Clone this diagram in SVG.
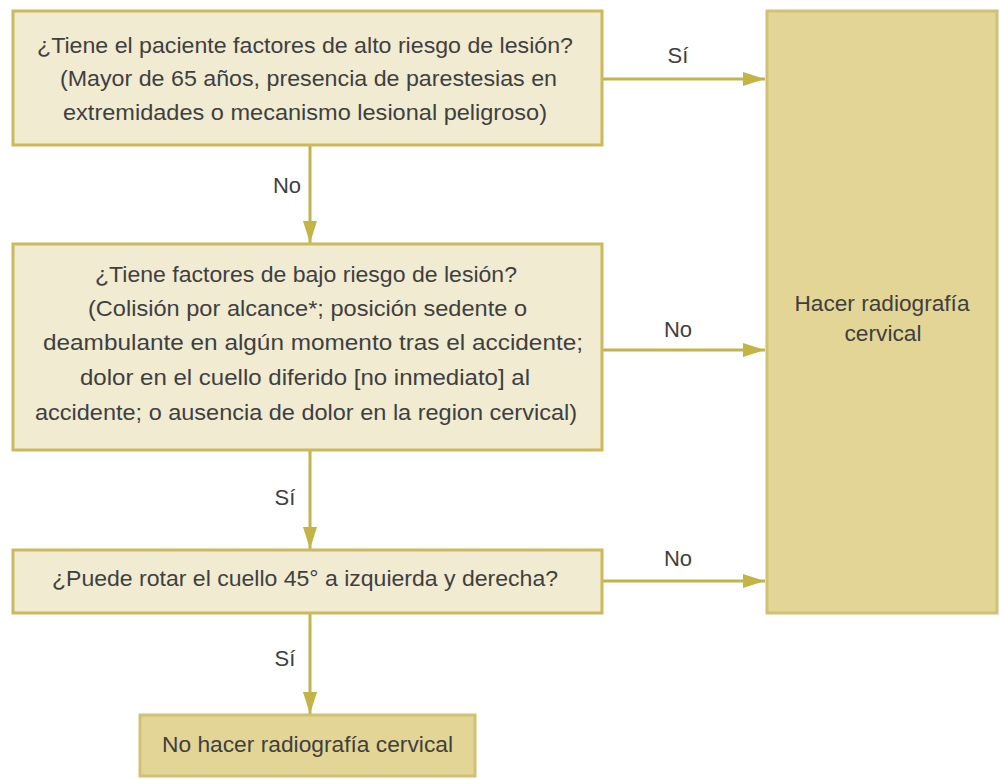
<svg xmlns="http://www.w3.org/2000/svg" width="1000" height="779" viewBox="0 0 1000 779">
<style>
.box{fill:#F1EBD2;stroke:#CBB95C;stroke-width:3}
.big{fill:#E3D596;stroke:#D2C175;stroke-width:3}
.t{font-family:"Liberation Sans",Arial,sans-serif;font-size:22px;fill:#3f3f3f;}
.c{text-anchor:middle}
.line{stroke:#C2B545;stroke-width:3;fill:none}
</style>
<defs>
<marker id="ah" markerUnits="userSpaceOnUse" markerWidth="24" markerHeight="16" refX="22" refY="7" orient="auto">
<path d="M0,0 L22,7 L0,14 z" fill="#C2B545"/>
</marker>
</defs>
<rect width="1000" height="779" fill="#fff"/>
<g id="connectors">
<line class="line" x1="602" y1="79" x2="765" y2="79" marker-end="url(#ah)"/>
<line class="line" x1="602" y1="350" x2="765" y2="350" marker-end="url(#ah)"/>
<line class="line" x1="602" y1="581" x2="765" y2="581" marker-end="url(#ah)"/>
<line class="line" x1="310" y1="145" x2="310" y2="243" marker-end="url(#ah)"/>
<line class="line" x1="310" y1="450" x2="310" y2="549" marker-end="url(#ah)"/>
<line class="line" x1="310" y1="613" x2="310" y2="714" marker-end="url(#ah)"/>
<text class="t c" x="678" y="63">Sí</text>
<text class="t c" x="287" y="193">No</text>
<text class="t c" x="678" y="337">No</text>
<text class="t c" x="285" y="505">Sí</text>
<text class="t c" x="678" y="566">No</text>
<text class="t c" x="285" y="666">Sí</text>
</g>
<g id="node-alto-riesgo">
<rect class="box" x="13" y="11" width="589" height="134"/>
<text class="t" x="37" y="53" textLength="536" lengthAdjust="spacingAndGlyphs">¿Tiene el paciente factores de alto riesgo de lesión?</text>
<text class="t" x="60" y="86" textLength="497" lengthAdjust="spacingAndGlyphs">(Mayor de 65 años, presencia de parestesias en</text>
<text class="t" x="63" y="120" textLength="484" lengthAdjust="spacingAndGlyphs">extremidades o mecanismo lesional peligroso)</text>
</g>
<g id="node-bajo-riesgo">
<rect class="box" x="13" y="244" width="589" height="206"/>
<text class="t" x="95" y="282" textLength="422" lengthAdjust="spacingAndGlyphs">¿Tiene factores de bajo riesgo de lesión?</text>
<text class="t" x="88" y="316" textLength="439" lengthAdjust="spacingAndGlyphs">(Colisión por alcance*; posición sedente o</text>
<text class="t" x="43" y="350" textLength="540" lengthAdjust="spacingAndGlyphs">deambulante en algún momento tras el accidente;</text>
<text class="t" x="80" y="385" textLength="450" lengthAdjust="spacingAndGlyphs">dolor en el cuello diferido [no inmediato] al</text>
<text class="t" x="35" y="420" textLength="542" lengthAdjust="spacingAndGlyphs">accidente; o ausencia de dolor en la region cervical)</text>
</g>
<g id="node-rotar">
<rect class="box" x="13" y="550" width="589" height="63"/>
<text class="t" x="52" y="586" textLength="506" lengthAdjust="spacingAndGlyphs">¿Puede rotar el cuello 45° a izquierda y derecha?</text>
</g>
<g id="node-no-hacer">
<rect class="big" x="140" y="715" width="335" height="61"/>
<text class="t" x="162" y="752" textLength="291" lengthAdjust="spacingAndGlyphs">No hacer radiografía cervical</text>
</g>
<g id="node-hacer">
<rect class="big" x="767" y="11" width="230" height="602"/>
<text class="t c" x="882" y="311" textLength="175" lengthAdjust="spacingAndGlyphs">Hacer radiografía</text>
<text class="t c" x="883" y="341" textLength="77" lengthAdjust="spacingAndGlyphs">cervical</text>
</g>
</svg>
